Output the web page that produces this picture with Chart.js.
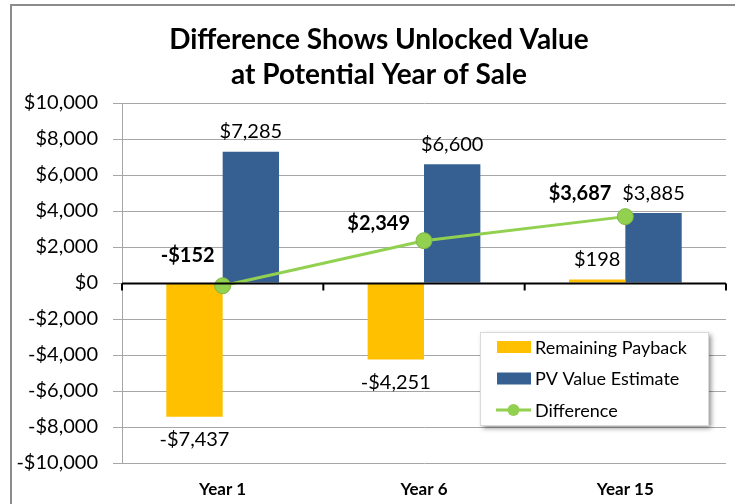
<!DOCTYPE html>
<html>
<head>
<meta charset="utf-8">
<script src="https://cdn.jsdelivr.net/npm/chart.js@4.4.0/dist/chart.umd.min.js"></script>
<style>
  html, body { margin: 0; padding: 0; background: #fff; }
  #wrap { width: 735px; height: 504px; position: relative; }
</style>
</head>
<body>
<div id="wrap"><canvas id="unlockedChart" width="735" height="504"></canvas></div>
<script>
const categories = ['Year 1', 'Year 6', 'Year 15'];
const remainingPayback = [-7437, -4251, 198];
const pvValueEstimate = [7285, 6600, 3885];
const difference = [-152, 2349, 3687];
const yTicks = [-10000, -8000, -6000, -4000, -2000, 0, 2000, 4000, 6000, 8000, 10000];

const FONT = 'Lato, "Open Sans", sans-serif';
const YELLOW = '#FFC000';
const BLUE = '#366092';
const GREEN = '#92D050';
const GRID = '#A6A6A6';

function money(v) {
    const s = '$' + Math.abs(v).toLocaleString('en-US');
    return v < 0 ? '-' + s : s;
}

// title, outer frame, zero axis
const framePlugin = {
    id: 'frame',
    beforeDraw(chart) {
        const ctx = chart.ctx;
        ctx.save();
        ctx.strokeStyle = '#8C8C8C';
        ctx.lineWidth = 2;
        ctx.beginPath();
        ctx.moveTo(11, 504);
        ctx.lineTo(11, 5);
        ctx.lineTo(735, 5);
        ctx.stroke();
        ctx.fillStyle = '#000';
        ctx.font = 'bold 28px ' + FONT;
        ctx.textAlign = 'center';
        ctx.textBaseline = 'middle';
        ctx.fillText('Difference Shows Unlocked Value', 379, 40);
        ctx.fillText('at Potential Year of Sale', 379, 75);
        ctx.restore();
    },
    afterDatasetsDraw(chart) {
        const ctx = chart.ctx;
        const x = chart.scales.x, y = chart.scales.y;
        const y0 = Math.round(y.getPixelForValue(0)) + 0.5;
        ctx.save();
        ctx.strokeStyle = '#000';
        ctx.lineWidth = 2;
        ctx.beginPath();
        ctx.moveTo(chart.chartArea.left, y0);
        ctx.lineTo(chart.chartArea.right, y0);
        const step = x.getPixelForValue(1) - x.getPixelForValue(0);
        for (let i = 0; i <= categories.length; i++) {
            const px = x.getPixelForValue(i) - step / 2;
            ctx.moveTo(px, y0);
            ctx.lineTo(px, y0 + 7);
        }
        ctx.stroke();
        ctx.restore();
    }
};

// value labels
const labelOffsets = [[-8, -30], [-14, -17], [-14, -23]];
const labelPlugin = {
    id: 'valueLabels',
    afterDraw(chart) {
        const ctx = chart.ctx;
        ctx.save();
        ctx.textBaseline = 'middle';
        ctx.font = '20px ' + FONT;
        ctx.fillStyle = '#000';
        ctx.textAlign = 'center';
        [0, 1].forEach(di => {
            const meta = chart.getDatasetMeta(di);
            meta.data.forEach((bar, i) => {
                const v = chart.data.datasets[di].data[i];
                const ly = v < 0 ? bar.y + 23 : bar.y - 20;
                ctx.fillText(money(v), bar.x, ly);
            });
        });
        ctx.font = 'bold 20px ' + FONT;
        ctx.textAlign = 'right';
        chart.getDatasetMeta(2).data.forEach((pt, i) => {
            const o = labelOffsets[i];
            ctx.fillText(money(difference[i]), pt.x + o[0], pt.y + o[1]);
        });
        ctx.restore();
    }
};

// legend box inside the plot
const legendPlugin = {
    id: 'boxLegend',
    afterDraw(chart) {
        const ctx = chart.ctx;
        const bx = 480, by = 332, bw = 228, bh = 93;
        ctx.save();
        ctx.shadowColor = 'rgba(0,0,0,0.45)';
        ctx.shadowBlur = 5;
        ctx.shadowOffsetX = 3;
        ctx.shadowOffsetY = 3;
        ctx.fillStyle = '#fff';
        ctx.fillRect(bx, by, bw, bh);
        ctx.restore();
        ctx.save();
        ctx.strokeStyle = '#D9D9D9';
        ctx.lineWidth = 1;
        ctx.strokeRect(bx + 0.5, by + 0.5, bw, bh);
        ctx.font = '18px ' + FONT;
        ctx.textBaseline = 'middle';
        ctx.fillStyle = '#000';
        chart.data.datasets.forEach((ds, i) => {
            const ry = by + 15 + i * 31.5;
            if (ds.type === 'line') {
                ctx.strokeStyle = ds.borderColor;
                ctx.lineWidth = 3;
                ctx.beginPath();
                ctx.moveTo(bx + 16, ry);
                ctx.lineTo(bx + 51, ry);
                ctx.stroke();
                ctx.fillStyle = ds.pointBackgroundColor;
                ctx.beginPath();
                ctx.arc(bx + 33.5, ry, 6, 0, Math.PI * 2);
                ctx.fill();
            } else {
                ctx.fillStyle = ds.backgroundColor;
                ctx.fillRect(bx + 17, ry - 6, 34, 12);
            }
            ctx.fillStyle = '#000';
            ctx.fillText(ds.label, bx + 55, ry + 1);
        });
        ctx.restore();
    }
};

new Chart(document.getElementById('unlockedChart'), {
    data: {
        labels: categories,
        datasets: [
            {
                type: 'bar',
                label: 'Remaining Payback',
                data: remainingPayback,
                backgroundColor: YELLOW,
                categoryPercentage: 0.56,
                barPercentage: 1,
                order: 2
            },
            {
                type: 'bar',
                label: 'PV Value Estimate',
                data: pvValueEstimate,
                backgroundColor: BLUE,
                categoryPercentage: 0.56,
                barPercentage: 1,
                order: 2
            },
            {
                type: 'line',
                label: 'Difference',
                data: difference,
                borderColor: GREEN,
                borderWidth: 3,
                pointBackgroundColor: GREEN,
                pointBorderColor: '#7FB843',
                pointBorderWidth: 1,
                pointRadius: 8,
                tension: 0,
                order: 1
            }
        ]
    },
    options: {
        responsive: false,
        animation: false,
        layout: { padding: { top: 103, left: 0, right: 5, bottom: 0 } },
        plugins: {
            legend: { display: false },
            title: { display: false },
            tooltip: { enabled: false }
        },
        scales: {
            x: {
                grid: { display: false },
                border: { display: false },
                ticks: {
                    color: '#000',
                    font: { family: FONT, size: 17, weight: 'bold' },
                    padding: 8
                },
                afterFit(scale) { scale.height = 41; }
            },
            y: {
                min: -10000,
                max: 10000,
                afterBuildTicks(scale) {
                    scale.ticks = yTicks.map(v => ({ value: v }));
                },
                grid: {
                    color: GRID,
                    lineWidth: 1,
                    tickLength: 9,
                    tickColor: GRID
                },
                border: { display: true, color: GRID, width: 1 },
                ticks: {
                    color: '#000',
                    font: { family: FONT, size: 20 },
                    padding: 15,
                    callback: v => money(v)
                },
                afterFit(scale) { scale.width = 122; }
            }
        }
    },
    plugins: [framePlugin, labelPlugin, legendPlugin]
});
</script>
</body>
</html>
